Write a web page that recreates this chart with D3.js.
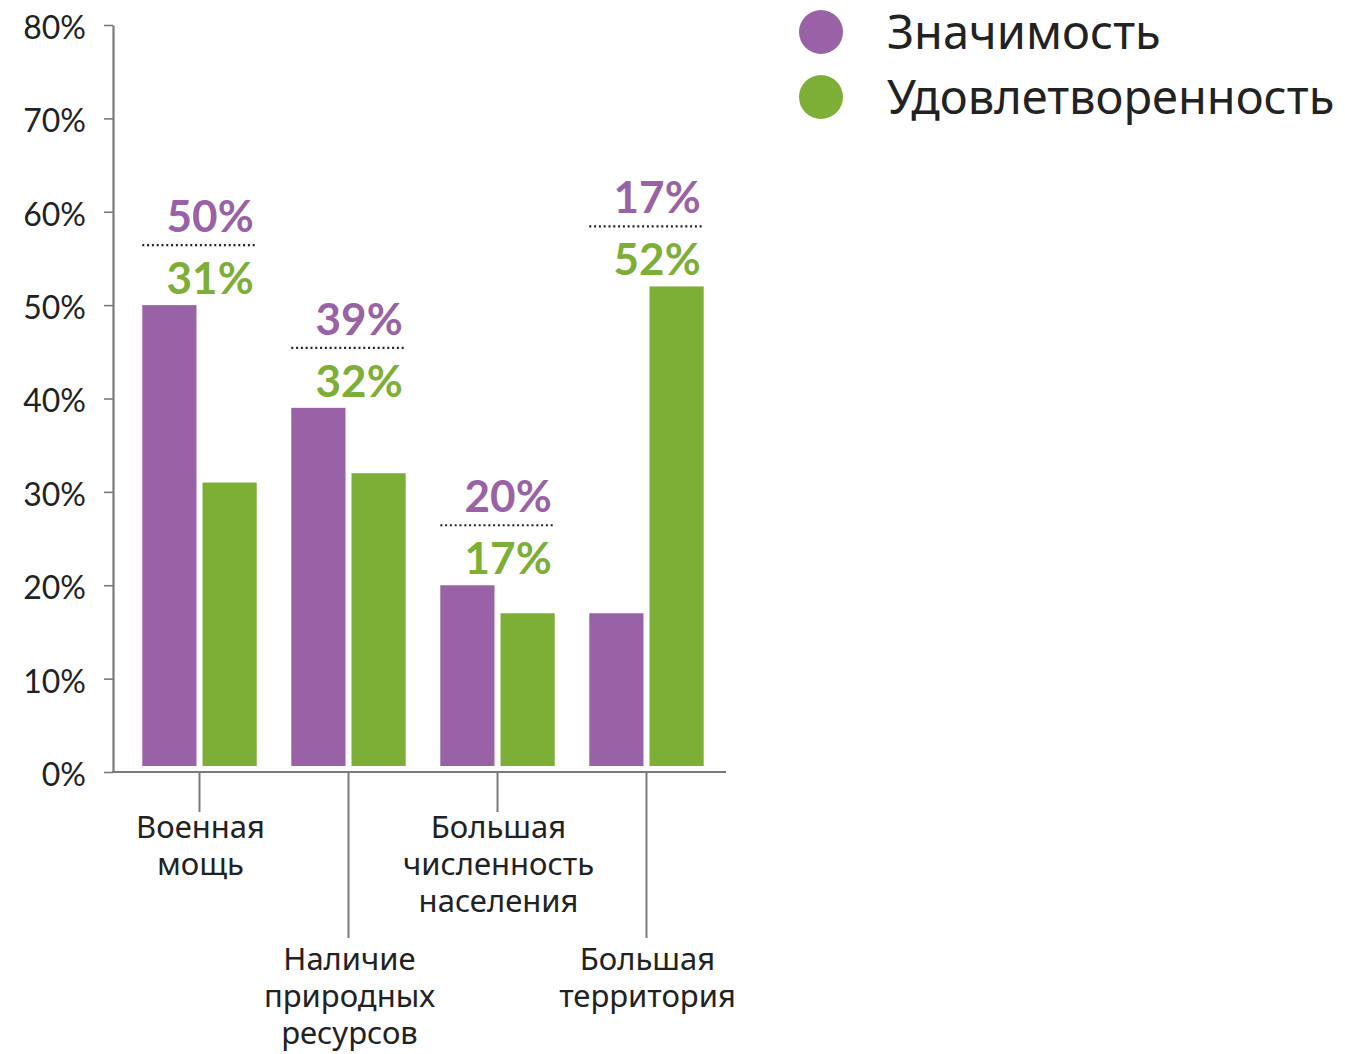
<!DOCTYPE html>
<html>
<head>
<meta charset="utf-8">
<script src="https://cdn.jsdelivr.net/npm/d3@7"></script>
<style>
  body { margin: 0; background: #fff; }
  svg { display: block; }
</style>
</head>
<body>
<div id="chart"></div>
<script>
// Данные
const categories = [
    ["Военная", "мощь"],
    ["Наличие", "природных", "ресурсов"],
    ["Большая", "численность", "населения"],
    ["Большая", "территория"]
];
const seriesNames = ["Значимость", "Удовлетворенность"];
const significance = [50, 39, 20, 17];
const satisfaction = [31, 32, 17, 52];
const yTicks = [0, 10, 20, 30, 40, 50, 60, 70, 80];

const colors = ["#9a62a6", "#7dae36"];
const catKeys = categories.map(c => c.join(" "));

const chartData = catKeys.map((k, i) => ({
    key: k,
    lines: categories[i],
    values: [significance[i], satisfaction[i]]
}));

const width = 1345, height = 1054;
const svg = d3.select("#chart")
    .append("svg")
    .attr("width", width)
    .attr("height", height);

const x0 = d3.scaleBand()
    .domain(catKeys)
    .range([125, 721])
    .paddingInner(0.232)
    .paddingOuter(0.116);

const x1 = d3.scaleBand()
    .domain(seriesNames)
    .range([0, x0.bandwidth()])
    .paddingInner(0.1);

const y = d3.scaleLinear()
    .domain([0, 80])
    .range([772, 25]);

const barBottom = y(0) - 6;

// Ось Y
const yAxis = svg.append("g")
    .attr("transform", "translate(113,0)")
    .call(d3.axisLeft(y).tickValues(yTicks).tickSize(9).tickSizeOuter(0).tickFormat(d => d + "%"));
yAxis.select(".domain").attr("stroke", "#7a7a7a").attr("stroke-width", 2.2);
yAxis.selectAll(".tick line").attr("stroke", "#7a7a7a").attr("stroke-width", 1.6);
yAxis.selectAll(".tick text")
    .attr("x", -27)
    .attr("dy", "0.42em")
    .style("font-family", "Lato, 'Noto Sans', sans-serif")
    .style("font-size", "32px")
    .style("fill", "#222");

// Ось X
svg.append("line")
    .attr("x1", 112).attr("x2", 726)
    .attr("y1", y(0)).attr("y2", y(0))
    .attr("stroke", "#7a7a7a")
    .attr("stroke-width", 2.2);

// Столбцы
const groups = svg.selectAll(".group")
    .data(chartData)
    .enter()
    .append("g")
    .attr("class", "group")
    .attr("transform", d => `translate(${x0(d.key)},0)`);

groups.selectAll("rect")
    .data(d => d.values.map((v, i) => ({ name: seriesNames[i], value: v, i: i })))
    .enter()
    .append("rect")
    .attr("x", d => x1(d.name))
    .attr("y", d => y(d.value))
    .attr("width", x1.bandwidth())
    .attr("height", d => barBottom - y(d.value))
    .attr("fill", d => colors[d.i]);

// Подписи значений с пунктиром
groups.each(function (d) {
    const g = d3.select(this);
    const top = y(d3.max(d.values));
    const lineY = top - 60;
    g.append("line")
        .attr("x1", 0).attr("x2", x0.bandwidth())
        .attr("y1", lineY).attr("y2", lineY)
        .attr("stroke", "#222")
        .attr("stroke-width", 2.2)
        .attr("stroke-dasharray", "2,2.8");
    g.append("text")
        .attr("x", x0.bandwidth() - 3)
        .attr("y", lineY - 13)
        .attr("text-anchor", "end")
        .style("font-family", "Lato, 'Noto Sans', sans-serif")
        .style("font-weight", "bold")
        .style("font-size", "44px")
        .style("fill", colors[0])
        .text(d.values[0] + "%");
    g.append("text")
        .attr("x", x0.bandwidth() - 3)
        .attr("y", lineY + 49)
        .attr("text-anchor", "end")
        .style("font-family", "Lato, 'Noto Sans', sans-serif")
        .style("font-weight", "bold")
        .style("font-size", "44px")
        .style("fill", colors[1])
        .text(d.values[1] + "%");
});

// Подписи категорий с выносками
groups.each(function (d, i) {
    const g = d3.select(this);
    const cx = x0.bandwidth() / 2;
    const long = i % 2 === 1;
    g.append("line")
        .attr("x1", cx).attr("x2", cx)
        .attr("y1", y(0)).attr("y2", long ? 938 : 812)
        .attr("stroke", "#7a7a7a")
        .attr("stroke-width", 2);
    const t = g.append("text")
        .attr("text-anchor", "middle")
        .style("font-family", "'Noto Sans', sans-serif")
        .style("font-size", "31px")
        .style("fill", "#222");
    d.lines.forEach((ln, j) => {
        t.append("tspan")
            .attr("x", cx + 1)
            .attr("y", (long ? 970 : 838) + j * 37)
            .text(ln);
    });
});

// Легенда
const legend = svg.append("g").attr("transform", "translate(821,32)");
seriesNames.forEach((name, i) => {
    legend.append("circle")
        .attr("cx", 0).attr("cy", i * 65)
        .attr("r", 22)
        .attr("fill", colors[i]);
    legend.append("text")
        .attr("x", 66).attr("y", i * 65 + 17)
        .style("font-family", "'Noto Sans', sans-serif")
        .style("font-size", "47px")
        .style("fill", "#222")
        .text(name);
});
</script>
</body>
</html>
